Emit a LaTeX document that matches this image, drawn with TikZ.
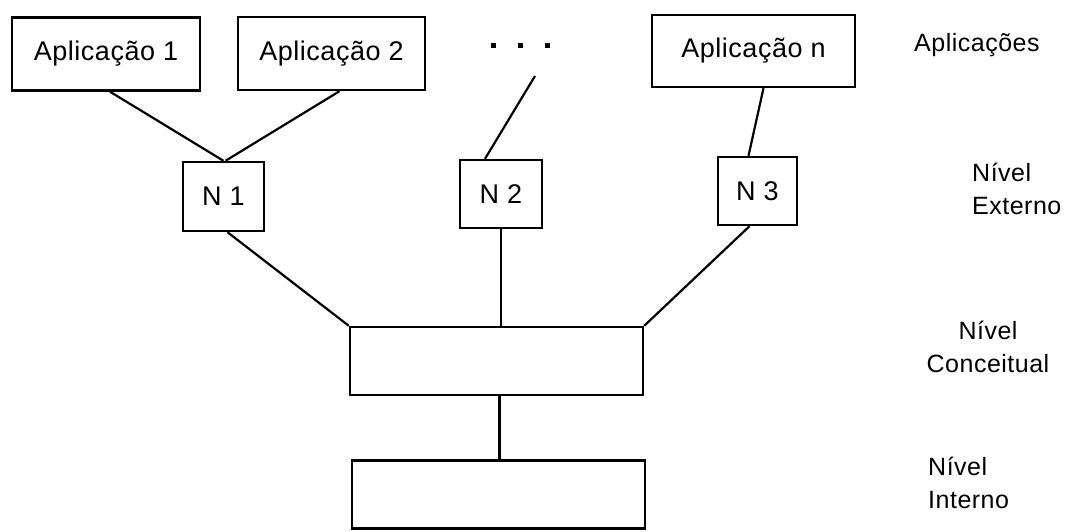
\documentclass[tikz,border=0pt]{standalone}
\usepackage{fontspec}
\setmainfont{Liberation Sans}[LetterSpace=2]
\begin{document}
\begin{tikzpicture}[x=1pt,y=-1pt,
  box/.style={draw,line width=2.4pt,rectangle,inner sep=0pt},
  conn/.style={line width=2.2pt},
  lbl/.style={font=\fontsize{25}{33}\selectfont,inner sep=0pt},
  every node/.append style={font=\fontsize{27}{33}\selectfont}]
\useasboundingbox (0,0) rectangle (1069,531);
\node[box,minimum width=188pt,minimum height=73pt] (app1) at (106,54) {Aplicação 1};
\node[box,minimum width=187pt,minimum height=73pt] (app2) at (331.5,53.5) {Aplicação 2};
\node[inner sep=0pt] (dots) at (520,45) {\rule{5pt}{5pt}\hspace{22pt}\rule{5pt}{5pt}\hspace{22pt}\rule{5pt}{5pt}};
\coordinate (dotsend) at (535,76);
\node[box,minimum width=203pt,minimum height=72pt] (appn) at (753.5,51) {Aplicação n};
\node[box,minimum width=81pt,minimum height=69pt] (n1) at (223.5,196.5) {N 1};
\node[box,minimum width=82pt,minimum height=68pt] (n2) at (501,194) {N 2};
\node[box,minimum width=79pt,minimum height=68pt] (n3) at (757.5,191) {N 3};
\node[box,minimum width=293pt,minimum height=68pt] (conc) at (496.5,361) {};
\node[box,minimum width=293pt,minimum height=68pt] (int) at (498.5,494.5) {};
\node[lbl,anchor=west] (lapp) at (914,45) {Aplicações};
\node[lbl,anchor=west,align=left] (lext) at (972,189) {Nível\\Externo};
\node[lbl,align=center] (lconc) at (988,347) {Nível\\Conceitual};
\node[lbl,anchor=west,align=left] (lint) at (928,483) {Nível\\Interno};
\draw[conn] ([xshift=4pt]app1.south) -- (n1.north);
\draw[conn] ([xshift=8pt]app2.south) -- ([xshift=2pt]n1.north);
\draw[conn] (dotsend) -- ([xshift=-16pt]n2.north);
\draw[conn] ([xshift=10pt]appn.south) -- ([xshift=-9pt]n3.north);
\draw[conn] ([xshift=4pt]n1.south) -- (conc.north west);
\draw[conn] (n2.south) -- (n2.south |- conc.north);
\draw[conn] ([xshift=-8pt]n3.south) -- (conc.north east);
\draw[conn] ([xshift=3pt]conc.south) -- ([xshift=3pt]conc.south |- int.north);
\end{tikzpicture}
\end{document}
